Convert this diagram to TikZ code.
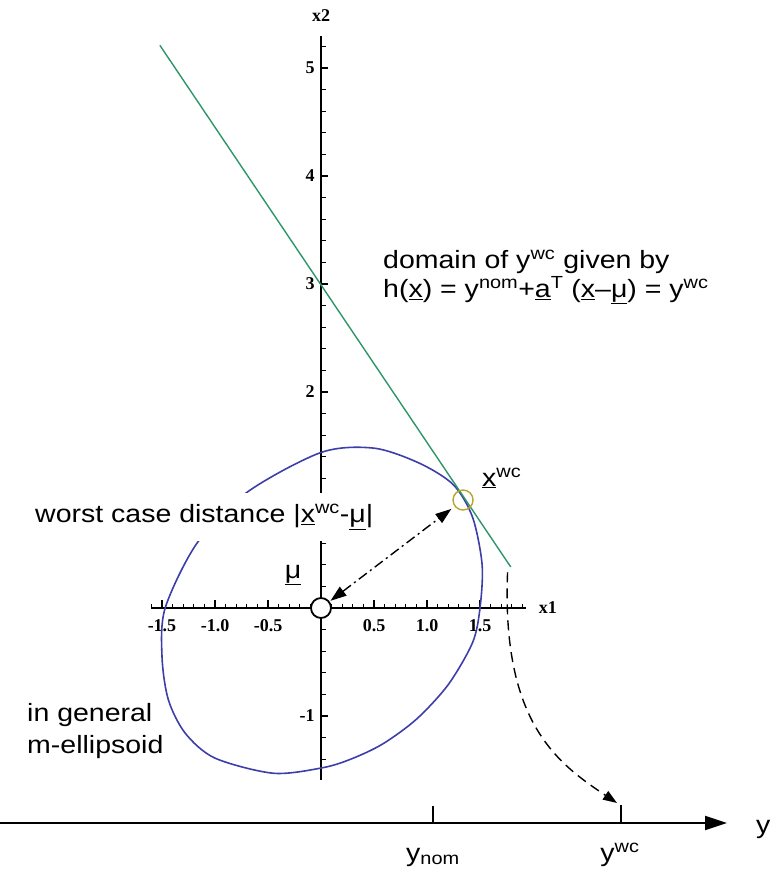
\documentclass[tikz,border=0pt]{standalone}
\usepackage{fontspec}
\usepackage{xcolor}
\usetikzlibrary{positioning, arrows.meta, calc}

\newfontfamily\labelfont[FakeStretch=1.14]{Liberation Sans}
\newfontfamily\tickfont{Liberation Serif}
\definecolor{ellblue}{RGB}{62,62,170}
\definecolor{linegreen}{RGB}{45,150,105}
\definecolor{wcyellow}{RGB}{185,165,45}

\begin{document}
\begin{tikzpicture}[
				x=1pt, y=-1pt,
				% --- styles ---
				axis/.style={draw, black, line width=1.8pt},
				tickmark/.style={draw, black, line width=1.1pt},
				ticklabel/.style={font=\tickfont\bfseries\fontsize{18}{18}\selectfont, inner sep=1pt},
				lbl/.style={font=\labelfont\fontsize{25}{29}\selectfont, align=left, inner sep=0pt},
				ellipsoid/.style={draw=ellblue, line width=1.6pt},
				domainline/.style={draw=linegreen, line width=1.4pt},
				origindot/.style={circle, draw, line width=1.8pt, fill=white, minimum size=20pt, inner sep=0pt},
				wcdot/.style={circle, draw=wcyellow, line width=1.4pt, minimum size=20pt, inner sep=0pt},
				distarrow/.style={draw, line width=1.4pt, dash pattern=on 10pt off 4pt on 2pt off 4pt,
					{Triangle[length=16pt,width=11pt]}-{Triangle[length=16pt,width=11pt]}},
				maparrow/.style={draw, line width=1.4pt, dash pattern=on 10pt off 6pt, -{Triangle[length=14pt,width=10pt]}},
				yaxis/.style={draw, black, line width=2pt, -{Triangle[length=22pt,width=14pt]}}
				]
				\useasboundingbox (0,0) rectangle (773,875);
				
				% ==========================================
				% 1. Plane x1 / x2
				% ==========================================
				\begin{scope}[shift={(321,608)}, x=106pt, y=108pt]
					% ticks on x1
					\foreach \i in {-16,...,19}
						\draw[tickmark] (\i/10,0) -- ++(0,0.04);
					\foreach \i in {-15,-10,-5,5,10,15}
						\draw[tickmark] (\i/10,0) -- ++(0,0.07);
					% ticks on x2
					\foreach \j in {-7,...,26}
						\draw[tickmark] (0,\j/5) -- ++(0.05,0);
					\foreach \j in {-1,1,2,3,4,5}
						\draw[tickmark] (0,\j) -- ++(0.07,0);
					\draw[axis] (-1.6,0) -- (1.93,0);
					\draw[axis] (0,-1.59) -- (0,5.3);
					
					\foreach \v in {-1.5,-1.0,-0.5,0.5,1.0,1.5}
						\node[ticklabel] at (\v,-0.16) {\v};
					\foreach \v in {-1,2,3,4,5}
						\node[ticklabel, anchor=east] at (-0.05,\v) {\v};
					\node[ticklabel] (x2lbl) at (0,5.49) {x2};
					\node[ticklabel] (x1lbl) at (2.14,0) {x1};
					
					% m-ellipsoid
					\draw[ellipsoid] plot[smooth cycle] coordinates {
						(1.50,0.0) (1.52,0.40) (1.43,0.84) (1.25,1.14) (0.93,1.34) (0.50,1.48)
						(0.0,1.44) (-0.70,1.07) (-1.17,0.60) (-1.47,0.0) (-1.50,-0.45)
						(-1.44,-0.85) (-1.28,-1.16) (-1.00,-1.39) (-0.45,-1.53) (0.01,-1.48)
						(0.28,-1.40) (0.58,-1.26) (0.90,-1.03) (1.20,-0.71) (1.43,-0.32)};
					
					% domain h(x) = y^wc
					\draw[domainline] (-1.52,5.21) -- (1.79,0.38);
					\coordinate (dstart) at (1.76,0.33);
					
					\node[origindot] (mu) at (0,0) {};
					\node[wcdot] (xwc) at (1.34,1.0) {};
					\draw[distarrow, shorten <=1pt, shorten >=4pt] (mu) -- (xwc);
				\end{scope}
				
				% ==========================================
				% 2. Labels
				% ==========================================
				\node[lbl, anchor=west] (domain) at (383,277) {domain of y\textsuperscript{wc} given by\\
					h(\underline{x}) = y\textsuperscript{nom}+\underline{a}\textsuperscript{T} (\underline{x}–\underline{μ}) = y\textsuperscript{wc}};
				\node[lbl, anchor=west, fill=white, inner ysep=11pt, inner xsep=2pt] (wcdist) at (33,517)
					{worst case distance |\underline{x}\textsuperscript{wc}-\underline{μ}|};
				\node[lbl] (mulbl) at (293,575) {\underline{μ}};
				\node[lbl, anchor=west] (xwclbl) at (482,478) {\underline{x}\textsuperscript{wc}};
				\node[lbl, anchor=west, font=\labelfont\fontsize{25}{32}\selectfont] (general) at (27,731) {in general\\m-ellipsoid};
				
				% ==========================================
				% 3. Axis y and mapping
				% ==========================================
				\coordinate (ystart) at (0,823);
				\coordinate (yend) at (727,823);
				\draw[yaxis] (ystart) -- (yend);
				\node[lbl, anchor=west] (ylbl) at (756,829) {y};
				
				\coordinate (ynomtick) at (433,806);
				\coordinate (ywctick) at (621,805);
				\draw[tickmark] (ynomtick) -- (ynomtick |- ystart);
				\draw[tickmark] (ywctick) -- (ywctick |- ystart);
				\node[lbl] (ynom) at (433,857) {y\textsubscript{nom}};
				\node[lbl] (ywc) at (620,855) {y\textsuperscript{wc}};
				
				\coordinate (dend) at (617,803);
				\draw[maparrow] (dstart) .. controls +(-6,150) and +(-60,-40) .. (dend);
			\end{tikzpicture}
\end{document}
